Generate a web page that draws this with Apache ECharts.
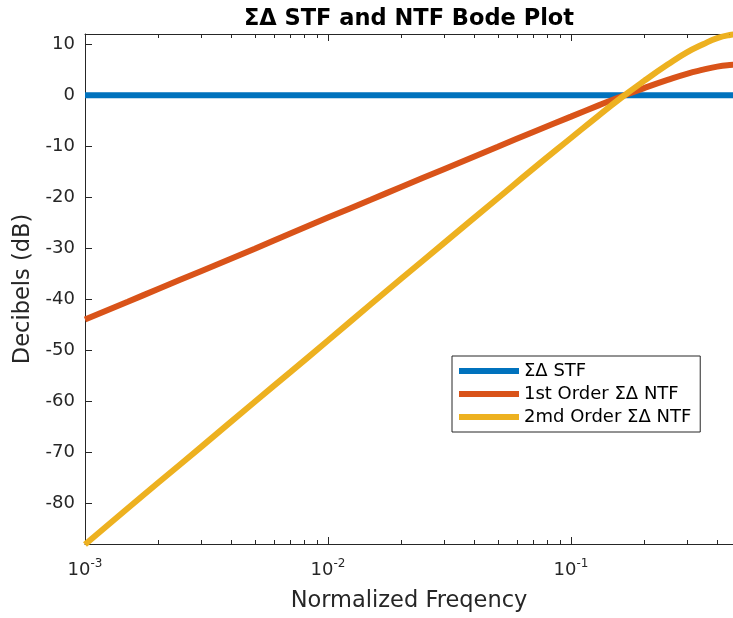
<!DOCTYPE html>
<html>
<head>
<meta charset="utf-8">
<script src="https://cdn.jsdelivr.net/npm/echarts@6/dist/echarts.min.js"></script>
<style>
html,body{margin:0;padding:0;background:#fff;}
#chart{width:733px;height:618px;}
</style>
</head>
<body>
<div id="chart"></div>
<script>
// Normalized frequency samples
var freqs = [0.001, 0.0015, 0.002, 0.003, 0.005, 0.007, 0.01, 0.015, 0.02, 0.03, 0.05, 0.07, 0.1, 0.13, 0.16, 0.2, 0.25, 0.3, 0.35, 0.4, 0.45, 0.5];
// Series values (dB)
var stfDb = [0, 0, 0, 0, 0, 0, 0, 0, 0, 0, 0, 0, 0, 0, 0, 0, 0, 0, 0, 0, 0, 0];
var ntf1Db = [-44.0, -40.5, -38.0, -34.5, -30.1, -27.1, -24.0, -20.5, -18.0, -14.5, -10.1, -7.2, -4.2, -2.0, -0.3, 1.4, 3.0, 4.2, 5.0, 5.6, 5.9, 6.0];
var ntf2Db = [-88.1, -81.0, -76.0, -69.0, -60.1, -54.3, -48.1, -41.0, -36.0, -29.0, -20.2, -14.4, -8.4, -4.0, -0.6, 2.8, 6.0, 8.4, 10.0, 11.2, 11.8, 12.0];
var seriesNames = ['\u03A3\u0394 STF', '1st Order \u03A3\u0394 NTF', '2md Order \u03A3\u0394 NTF'];
// Tick values; the visible frequency window ends where the picture is cut off
var xMin = 0.001, xMaxVisible = 0.4645;
var xMajorTicks = [0.001, 0.01, 0.1];
var xMinorTicks = [0.002, 0.003, 0.004, 0.005, 0.006, 0.007, 0.008, 0.009, 0.02, 0.03, 0.04, 0.05, 0.06, 0.07, 0.08, 0.09, 0.2, 0.3, 0.4];
var yTicks = [-80, -70, -60, -50, -40, -30, -20, -10, 0, 10];

var colors = ['#0072BD', '#D95319', '#EDB120'];
var font = 'DejaVu Sans';
var axisColor = '#262626';

function pairs(ys) { return freqs.map(function (f, i) { return [f, ys[i]]; }); }

var xBase = { type: 'log', logBase: 10, min: xMin, max: xMaxVisible, gridIndex: 0 };
function xAxisDef(pos, ticks, len, showLine, showLabel) {
  return Object.assign({}, xBase, {
    position: pos,
    axisLine: { show: showLine, onZero: false, lineStyle: { color: axisColor, width: 1 } },
    axisTick: { show: true, inside: true, length: len, customValues: ticks, lineStyle: { color: axisColor, width: 1 } },
    axisLabel: showLabel ? {
      show: true, customValues: xMajorTicks, margin: 14,
      formatter: function (v) { return '{b|10}{s|' + Math.round(Math.log10(v)) + '}'; },
      rich: {
        b: { fontFamily: font, fontSize: 18, color: axisColor },
        s: { fontFamily: font, fontSize: 12, color: axisColor, padding: [0, 0, 12, 0] }
      }
    } : { show: false },
    splitLine: { show: false },
    minorTick: { show: false }
  });
}

var chart = echarts.init(document.getElementById('chart'), null, { renderer: 'canvas' });
chart.setOption({
  animation: false,
  backgroundColor: '#fff',
  title: {
    text: '\u03A3\u0394 STF and NTF Bode Plot',
    left: 404, top: 3, textAlign: 'center',
    textStyle: { fontFamily: font, fontSize: 22.5, fontWeight: 'bold', color: '#000' }
  },
  grid: { left: 85, top: 34, right: 0, height: 513, containLabel: false },
  legend: {
    data: seriesNames,
    orient: 'vertical',
    left: 452, top: 356,
    icon: 'rect', itemWidth: 60, itemHeight: 6, itemGap: 5,
    padding: [6, 9, 6, 7],
    borderColor: axisColor, borderWidth: 1, backgroundColor: '#fff',
    textStyle: { fontFamily: font, fontSize: 18, color: '#000' }
  },
  xAxis: [
    Object.assign(xAxisDef('bottom', xMajorTicks, 7, true, true), {
      name: 'Normalized Freqency', nameLocation: 'middle', nameGap: 46,
      nameTextStyle: { fontFamily: font, fontSize: 22.5, color: axisColor }
    }),
    xAxisDef('bottom', xMinorTicks, 4, false, false),
    xAxisDef('top', xMajorTicks, 7, true, false),
    xAxisDef('top', xMinorTicks, 4, false, false)
  ],
  yAxis: {
    type: 'value', min: -88, max: 12,
    name: 'Decibels (dB)', nameLocation: 'middle', nameGap: 44,
    nameTextStyle: { fontFamily: font, fontSize: 22.5, color: axisColor },
    axisLine: { show: true, lineStyle: { color: axisColor, width: 1 } },
    axisTick: { show: true, inside: true, length: 7, customValues: yTicks, lineStyle: { color: axisColor } },
    axisLabel: { customValues: yTicks, fontFamily: font, fontSize: 18, color: axisColor, margin: 10 },
    splitLine: { show: false }
  },
  series: [
    { name: seriesNames[0], type: 'line', data: pairs(stfDb), clip: true, showSymbol: false, lineStyle: { width: 6, color: colors[0] }, itemStyle: { color: colors[0] } },
    { name: seriesNames[1], type: 'line', data: pairs(ntf1Db), clip: true, smooth: true, showSymbol: false, lineStyle: { width: 6, color: colors[1] }, itemStyle: { color: colors[1] } },
    { name: seriesNames[2], type: 'line', data: pairs(ntf2Db), clip: true, smooth: true, showSymbol: false, lineStyle: { width: 6, color: colors[2] }, itemStyle: { color: colors[2] } }
  ]
});
</script>
</body>
</html>
